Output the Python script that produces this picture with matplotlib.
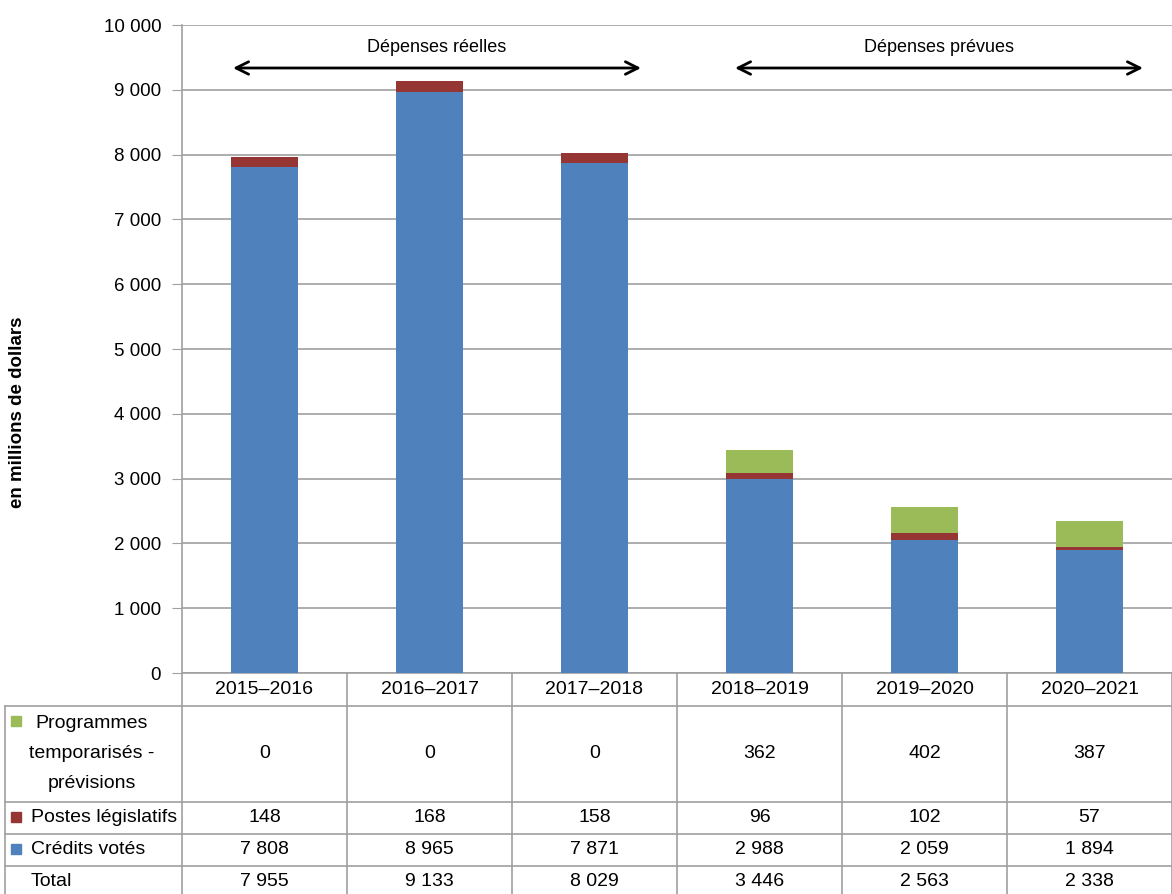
import matplotlib
matplotlib.use("Agg")
import matplotlib.pyplot as plt

# -------------------------------------------------------------
# Data
# -------------------------------------------------------------
years = ["2015–2016", "2016–2017", "2017–2018", "2018–2019", "2019–2020", "2020–2021"]
credits_votes = [7808, 8965, 7871, 2988, 2059, 1894]
postes_legislatifs = [148, 168, 158, 96, 102, 57]
programmes_temp = [0, 0, 0, 362, 402, 387]
totals = [7955, 9133, 8029, 3446, 2563, 2338]

BLUE = "#4F81BD"
RED = "#963634"
GREEN = "#9BBB59"
GRID = "#A0A0A0"

plt.rcParams["font.family"] = ["Liberation Sans", "DejaVu Sans"]


def fmt(v):
    return f"{v:,}".replace(",", " ")


# -------------------------------------------------------------
# Figure / axes
# -------------------------------------------------------------
W, H = 1172, 894
fig = plt.figure(figsize=(W / 100, H / 100), dpi=100)

ax_left, ax_right, ax_top, ax_bottom = 182, 1172, 25, 673
ax = fig.add_axes([ax_left / W, 1 - ax_bottom / H,
                   (ax_right - ax_left) / W, (ax_bottom - ax_top) / H])

col_w = (ax_right - ax_left) / len(years)
ax_h = ax_bottom - ax_top


def px(x):
    # figure pixel x -> data x
    return (x - ax_left) / col_w - 0.5


def py(y):
    # figure pixel y -> axes fraction
    return (ax_bottom - y) / ax_h


xs = list(range(len(years)))
bw = 0.41
ax.bar(xs, credits_votes, bw, color=BLUE, zorder=3)
ax.bar(xs, postes_legislatifs, bw, bottom=credits_votes, color=RED, zorder=3)
base2 = [a + b for a, b in zip(credits_votes, postes_legislatifs)]
ax.bar(xs, programmes_temp, bw, bottom=base2, color=GREEN, zorder=3)

ax.set_xlim(-0.5, len(years) - 0.5)
ax.set_ylim(0, 10000)
ax.set_yticks(range(0, 10001, 1000))
ax.set_yticklabels([fmt(v) for v in range(0, 10001, 1000)], fontsize=13.5)
ax.tick_params(axis="y", length=7, color=GRID, pad=8)
ax.set_xticks([])
ax.yaxis.grid(True, color=GRID, lw=1.2)
ax.set_axisbelow(True)
for s in ("top", "right"):
    ax.spines[s].set_visible(False)
for s in ("left", "bottom"):
    ax.spines[s].set_color(GRID)
    ax.spines[s].set_linewidth(1.2)

fig.text(18 / W, 1 - 412 / H, "en millions de dollars", rotation=90,
         fontsize=13.5, fontweight="bold", ha="center", va="center")

# -------------------------------------------------------------
# Arrows
# -------------------------------------------------------------
arrow_y = 10000 * py(68)
text_y = 10000 * py(47)
for (x0, x1), label in [((px(233), px(641)), "Dépenses réelles"),
                        ((px(735), px(1143)), "Dépenses prévues")]:
    ax.annotate("", xy=(x1, arrow_y), xytext=(x0, arrow_y),
                arrowprops=dict(arrowstyle="<->,head_length=0.9,head_width=0.45",
                                lw=2, color="black", shrinkA=0, shrinkB=0))
    ax.text((x0 + x1) / 2, text_y, label, fontsize=13, ha="center", va="center")

# -------------------------------------------------------------
# Data table
# -------------------------------------------------------------
tr = ax.get_xaxis_transform()
rows_y = [673, 706, 802, 834, 866, 900]
line_kw = dict(color=GRID, lw=1.2, transform=tr, clip_on=False)

for yb in rows_y[1:-1]:
    ax.plot([px(5), px(W)], [py(yb), py(yb)], **line_kw)
ax.plot([px(5), px(5)], [py(706), py(900)], **line_kw)
for k in range(len(years) + 1):
    xk = k - 0.5
    ax.plot([xk, xk], [py(673), py(900)], **line_kw)

# header row (categories)
for i, yr in enumerate(years):
    ax.text(i, py(690), yr, fontsize=14, ha="center", va="center",
            transform=tr, clip_on=False)

table_rows = [
    (programmes_temp, 754),
    (postes_legislatifs, 818),
    (credits_votes, 850),
    (totals, 882),
]
for vals, yc in table_rows:
    for i, v in enumerate(vals):
        ax.text(i, py(yc), fmt(v), fontsize=14, ha="center", va="center",
                transform=tr, clip_on=False)

# row labels
ax.plot([px(16)], [py(721)], marker="s", ms=7.5, color=GREEN, transform=tr, clip_on=False)
ax.text(px(92), py(754), "Programmes\ntemporarisés -\nprévisions", fontsize=14,
        ha="center", va="center", multialignment="center", linespacing=2.0,
        transform=tr, clip_on=False)
for label, color, yc in [("Postes législatifs", RED, 818),
                         ("Crédits votés", BLUE, 850),
                         ("Total", None, 882)]:
    if color:
        ax.plot([px(16)], [py(yc - 1)], marker="s", ms=7.5, color=color,
                transform=tr, clip_on=False)
    ax.text(px(31), py(yc), label, fontsize=14, ha="left", va="center",
            transform=tr, clip_on=False)

fig.savefig("out.png", dpi=100)
